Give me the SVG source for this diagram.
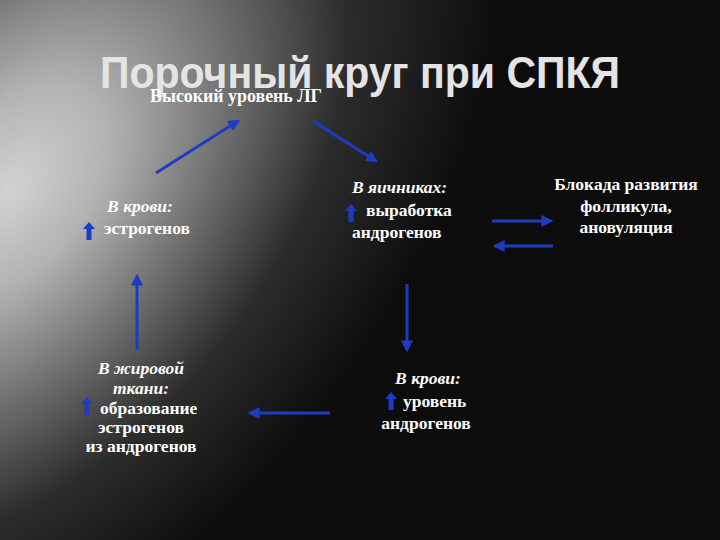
<svg xmlns="http://www.w3.org/2000/svg" width="720" height="540" viewBox="0 0 720 540">
<defs>
<radialGradient id="bg" cx="10" cy="190" r="620" gradientUnits="userSpaceOnUse" gradientTransform="translate(10 190) rotate(-50) scale(1 0.62) translate(-10 -190)">
<stop offset="0" stop-color="#d2d2d2"/>
<stop offset="0.2" stop-color="#b2b2b2"/>
<stop offset="0.45" stop-color="#6c6c6c"/>
<stop offset="0.68" stop-color="#2c2c2c"/>
<stop offset="1" stop-color="#0c0c0c"/>
</radialGradient>
<marker id="ah" viewBox="0 0 10 10" refX="8" refY="5" markerWidth="4" markerHeight="4" orient="auto" markerUnits="strokeWidth">
<path d="M0,0 L10,5 L0,10 z" fill="#1e3cc0"/>
</marker>
<symbol id="up" viewBox="0 0 12 18">
<path d="M6,0 L12,7 L8.5,7 L8.5,18 L3.5,18 L3.5,7 L0,7 z" fill="#1e3cc0"/>
</symbol>
</defs>
<style>
.t{font-family:"Liberation Serif","Times New Roman",serif;font-size:17.5px;fill:#ffffff;font-weight:bold}
.i{font-style:italic}
.c{text-anchor:middle}
.title{font-family:"Liberation Sans",Arial,sans-serif;font-weight:bold;font-size:45px;fill:#e4e4e4}
.ar{stroke:#1e3cc0;stroke-width:3;fill:none;marker-end:url(#ah)}
</style>
<rect width="720" height="540" fill="#0c0c0c"/>
<rect width="720" height="540" fill="url(#bg)"/>
<g id="title">
<text class="title" x="100" y="88" textLength="520" lengthAdjust="spacingAndGlyphs">Порочный круг при СПКЯ</text>
</g>
<g id="lh">
<text class="t" x="150" y="102" textLength="172" lengthAdjust="spacingAndGlyphs" style="font-size:18px">Высокий уровень ЛГ</text>
</g>
<g id="blood-estrogen">
<text class="t i c" x="140" y="212">В крови:</text>
<use href="#up" x="83" y="222" width="12" height="18"/>
<text class="t" x="104" y="234">эстрогенов</text>
</g>
<g id="ovaries">
<text class="t i" x="352" y="193">В яичниках:</text>
<use href="#up" x="345" y="204" width="12" height="18"/>
<text class="t" x="366" y="216">выработка</text>
<text class="t" x="352" y="238">андрогенов</text>
</g>
<g id="block">
<text class="t c" x="626" y="190">Блокада развития</text>
<text class="t c" x="626" y="212">фолликула,</text>
<text class="t c" x="626" y="233">ановуляция</text>
</g>
<g id="fat">
<text class="t i c" x="141" y="374">В жировой</text>
<text class="t i c" x="141" y="394">ткани:</text>
<use href="#up" x="81" y="397" width="12" height="18"/>
<text class="t" x="100" y="414">образование</text>
<text class="t c" x="141" y="433">эстрогенов</text>
<text class="t c" x="141" y="452">из андрогенов</text>
</g>
<g id="blood-androgen">
<text class="t i c" x="428" y="384">В крови:</text>
<use href="#up" x="385" y="392" width="12" height="18"/>
<text class="t" x="403" y="407">уровень</text>
<text class="t c" x="426" y="429">андрогенов</text>
</g>
<g id="connectors">
<line class="ar" x1="156" y1="173" x2="238" y2="121"/>
<line class="ar" x1="313" y1="121" x2="376" y2="161"/>
<line class="ar" x1="492" y1="221" x2="551" y2="221"/>
<line class="ar" x1="553" y1="246" x2="495" y2="246"/>
<line class="ar" x1="407" y1="284" x2="407" y2="350"/>
<line class="ar" x1="330" y1="413" x2="250" y2="413"/>
<line class="ar" x1="137" y1="350" x2="137" y2="276"/>
</g>
</svg>
